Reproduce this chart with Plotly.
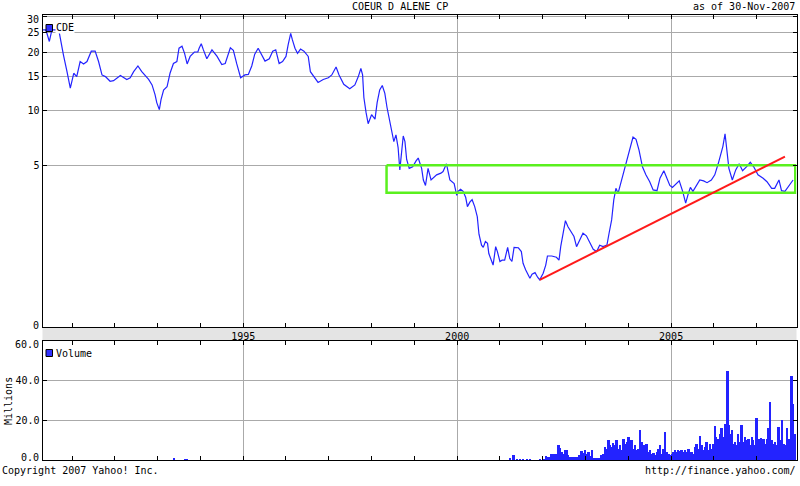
import math
import plotly.graph_objects as go

# ---------------- data ----------------
price_t = [1990.30, 1990.39, 1990.47, 1990.53, 1990.69, 1990.75, 1990.80, 1990.88, 1990.96,
           1991.04, 1991.11, 1991.19, 1991.27, 1991.35, 1991.45, 1991.54, 1991.62, 1991.70,
           1991.78, 1991.89, 1991.97, 1992.13, 1992.28, 1992.36, 1992.44, 1992.54, 1992.63,
           1992.79, 1992.87, 1992.94, 1992.98, 1993.04, 1993.08, 1993.14, 1993.22, 1993.29,
           1993.37, 1993.45, 1993.50, 1993.57, 1993.63, 1993.69, 1993.76, 1993.86, 1993.94,
           1993.97, 1994.02, 1994.07, 1994.15, 1994.27, 1994.39, 1994.50, 1994.58, 1994.70,
           1994.77, 1994.85, 1994.94, 1995.04, 1995.12, 1995.20, 1995.27, 1995.35, 1995.43,
           1995.51, 1995.61, 1995.69, 1995.76, 1995.84, 1995.92, 1996.00, 1996.05, 1996.11,
           1996.15, 1996.21, 1996.27, 1996.34, 1996.42, 1996.52, 1996.57, 1996.68, 1996.75,
           1996.87, 1996.99, 1997.07, 1997.17, 1997.24, 1997.35, 1997.49, 1997.61, 1997.69,
           1997.75, 1997.79, 1997.82, 1997.87, 1997.92, 1998.00, 1998.08, 1998.13, 1998.19,
           1998.25, 1998.31, 1998.36, 1998.43, 1998.48, 1998.52, 1998.57, 1998.62, 1998.66,
           1998.70, 1998.74, 1998.78, 1998.82, 1998.88, 1998.96, 1999.04, 1999.09, 1999.17,
           1999.21, 1999.26, 1999.32, 1999.39, 1999.44, 1999.52, 1999.62, 1999.67, 1999.75,
           1999.83, 1999.93, 1999.99, 2000.02, 2000.08, 2000.14, 2000.20, 2000.24, 2000.30,
           2000.35, 2000.41, 2000.47, 2000.51, 2000.57, 2000.61, 2000.66, 2000.71, 2000.74,
           2000.79, 2000.84, 2000.90, 2000.94, 2001.00, 2001.05, 2001.11, 2001.18, 2001.23,
           2001.28, 2001.33, 2001.43, 2001.50, 2001.54, 2001.60, 2001.66, 2001.70, 2001.75,
           2001.82, 2001.88, 2001.93, 2002.01, 2002.07, 2002.11, 2002.21, 2002.32, 2002.38,
           2002.42, 2002.48, 2002.53, 2002.59, 2002.66, 2002.73, 2002.79, 2002.87, 2002.94,
           2003.02, 2003.10, 2003.18, 2003.26, 2003.33, 2003.41, 2003.50, 2003.55, 2003.61,
           2003.66, 2003.71, 2003.76, 2003.82, 2003.90, 2003.96, 2004.04, 2004.11, 2004.18,
           2004.25, 2004.33, 2004.41, 2004.50, 2004.58, 2004.67, 2004.74, 2004.83, 2004.89,
           2004.97, 2005.03, 2005.11, 2005.19, 2005.27, 2005.34, 2005.40, 2005.45, 2005.51,
           2005.59, 2005.67, 2005.76, 2005.84, 2005.94, 2006.02, 2006.10, 2006.15, 2006.21,
           2006.26, 2006.31, 2006.35, 2006.43, 2006.51, 2006.59, 2006.67, 2006.76, 2006.85,
           2006.93, 2007.03, 2007.15, 2007.24, 2007.35, 2007.42, 2007.52, 2007.58, 2007.66,
           2007.76, 2007.85]
price = [25.8, 25.8, 22.6, 25.8, 25.8, 21.7, 19.3, 16.0, 13.1,
         15.6, 15.0, 17.9, 17.4, 17.9, 20.2, 20.2, 17.9, 15.3,
         15.0, 14.2, 14.3, 15.2, 14.5, 14.8, 15.9, 17.0, 15.9,
         14.5, 13.6, 12.1, 11.0, 10.1, 11.4, 12.8, 13.3, 15.6,
         17.5, 17.9, 20.9, 21.4, 19.7, 17.4, 19.0, 20.0, 20.0,
         20.9, 22.0, 20.5, 18.5, 20.5, 19.0, 17.3, 17.5, 21.0,
         20.4, 17.4, 14.8, 15.3, 15.4, 17.0, 19.5, 20.9, 19.2,
         18.0, 18.5, 20.2, 20.5, 17.5, 17.9, 19.0, 21.7, 24.8,
         23.0, 20.9, 19.7, 20.7, 20.2, 19.0, 15.9, 14.8, 14.0,
         14.5, 14.8, 15.3, 16.8, 15.3, 13.7, 13.0, 13.6, 15.0,
         16.5, 15.3, 11.7, 9.8, 8.5, 9.5, 9.0, 11.0, 12.8,
         13.5, 12.3, 10.4, 8.7, 7.5, 6.8, 7.4, 6.3, 4.7,
         6.2, 7.3, 6.8, 5.4, 4.8, 4.9, 5.3, 5.5, 4.8,
         4.1, 3.8, 4.8, 4.1, 4.2, 4.4, 4.5, 4.6, 5.1,
         4.1, 3.9, 3.3, 3.5, 3.6, 3.5, 3.2, 2.8, 3.0,
         3.1, 2.8, 2.4, 1.8, 1.48, 1.42, 1.58, 1.53, 1.26,
         1.10, 0.99, 1.44, 1.31, 1.07, 1.10, 1.10, 1.42, 1.14,
         1.07, 1.42, 1.41, 1.31, 1.03, 0.89, 0.80, 0.72, 0.80,
         0.83, 0.74, 0.69, 0.82, 0.99, 1.20, 1.20, 1.17, 1.10,
         1.44, 1.88, 2.25, 2.04, 1.88, 1.73, 1.44, 1.64, 1.83,
         1.75, 1.53, 1.37, 1.31, 1.48, 1.44, 1.48, 1.83, 2.28,
         3.09, 3.65, 3.40, 3.90, 4.70, 5.40, 6.40, 7.20, 7.00,
         6.10, 4.90, 4.40, 4.00, 3.57, 3.53, 4.20, 4.65, 4.25,
         3.80, 3.70, 3.90, 4.05, 3.50, 2.95, 3.37, 3.70, 3.50,
         3.80, 4.10, 4.05, 3.95, 4.10, 4.40, 5.10, 5.60, 6.40,
         7.50, 6.10, 4.80, 4.10, 4.70, 5.10, 4.65, 4.90, 5.20,
         4.90, 4.40, 4.20, 4.00, 3.65, 3.65, 4.10, 3.53, 3.50,
         3.80, 4.10]

vol_t = [1993.37, 1993.64, 1993.68,
         2001.23, 2001.31, 2001.39, 2001.46, 2001.54, 2001.62, 2001.70, 2001.93, 2002.01,
         2002.07, 2002.13, 2002.16, 2002.20, 2002.24, 2002.28, 2002.32, 2002.36, 2002.40,
         2002.43, 2002.48, 2002.51, 2002.55, 2002.59, 2002.63, 2002.67, 2002.71, 2002.75,
         2002.79, 2002.83, 2002.85, 2002.90, 2002.94, 2002.98, 2003.02, 2003.06, 2003.10,
         2003.14, 2003.18, 2003.22, 2003.25, 2003.29, 2003.33, 2003.37, 2003.41, 2003.45,
         2003.49, 2003.53, 2003.57, 2003.61, 2003.64, 2003.68, 2003.72, 2003.76, 2003.80,
         2003.84, 2003.88, 2003.92, 2003.96, 2004.00, 2004.03, 2004.07, 2004.11, 2004.15,
         2004.19, 2004.23, 2004.27, 2004.31, 2004.35, 2004.38, 2004.42, 2004.46, 2004.50,
         2004.54, 2004.58, 2004.62, 2004.66, 2004.70, 2004.73, 2004.77, 2004.81, 2004.85,
         2004.89, 2004.93, 2004.97, 2005.01, 2005.05, 2005.09, 2005.12, 2005.16, 2005.20,
         2005.24, 2005.28, 2005.32, 2005.36, 2005.40, 2005.44, 2005.47, 2005.51, 2005.55,
         2005.59, 2005.63, 2005.67, 2005.71, 2005.75, 2005.79, 2005.82, 2005.86, 2005.90,
         2005.94, 2005.98, 2006.02, 2006.04, 2006.06, 2006.10, 2006.14, 2006.17, 2006.21,
         2006.25, 2006.28, 2006.31, 2006.33, 2006.35, 2006.39, 2006.41, 2006.45, 2006.49,
         2006.53, 2006.56, 2006.60, 2006.64, 2006.68, 2006.72, 2006.76, 2006.80, 2006.84,
         2006.88, 2006.91, 2006.95, 2006.99, 2007.02, 2007.06, 2007.09, 2007.12, 2007.15,
         2007.19, 2007.23, 2007.27, 2007.30, 2007.34, 2007.38, 2007.42, 2007.46, 2007.50,
         2007.54, 2007.58, 2007.62, 2007.66, 2007.70, 2007.74, 2007.77, 2007.81, 2007.84,
         2007.86, 2007.89]
vol = [1.0, 0.6, 0.6,
       1.2, 2.5, 0.8, 0.8, 0.8, 0.6, 0.8, 0.8, 0.8,
       2.0, 1.7, 1.7, 3.0, 3.0, 3.0, 3.0, 7.5, 6.4,
       4.2, 3.4, 5.0, 5.0, 2.5, 1.7, 1.7, 1.7, 1.7,
       1.7, 1.7, 2.5, 4.7, 3.7, 5.0, 3.0, 4.2, 2.0,
       5.4, 1.3, 1.3, 1.3, 1.3, 1.3, 2.5, 3.4, 6.7,
       5.9, 10.0, 7.5, 6.7, 8.7, 7.5, 10.0, 5.9, 7.5,
       5.0, 10.9, 8.4, 9.2, 11.8, 7.5, 10.0, 5.9, 7.5,
       5.0, 5.9, 15.1, 9.2, 7.5, 5.0, 8.4, 4.2, 5.0,
       3.0, 3.7, 2.5, 4.2, 5.9, 7.5, 3.4, 5.9, 14.3,
       4.2, 3.4, 2.5, 3.4, 4.2, 5.0, 4.2, 5.0, 4.7,
       5.4, 4.2, 5.0, 4.2, 5.9, 3.7, 4.2, 3.4, 6.7,
       8.4, 5.9, 12.1, 7.5, 5.0, 6.7, 9.2, 5.0, 8.4,
       5.9, 8.4, 17.1, 11.8, 10.0, 10.9, 13.4, 16.0, 11.8,
       18.5, 11.8, 45.0, 21.5, 17.6, 13.4, 15.1, 8.4, 9.2,
       7.5, 13.4, 9.2, 17.6, 9.2, 11.8, 10.0, 10.9, 7.5,
       11.8, 10.0, 7.5, 21.5, 8.4, 10.9, 11.4, 10.0, 10.9,
       8.4, 10.9, 16.0, 29.4, 10.0, 8.4, 9.2, 7.5, 16.8,
       10.0, 20.2, 8.4, 7.5, 16.0, 10.9, 8.4, 42.4, 28.2,
       9.2, 13.4]

trend_t = [2001.93, 2007.66]
trend_p = [0.69, 5.60]
band_t = [1998.35, 2007.90]
band_p = [3.43, 5.00]

price_ticks = [0, 5, 10, 15, 20, 25, 30]
vol_ticks = [0, 20, 40, 60]
year_labels = [1995, 2000, 2005]
minor_years = list(range(1991, 2008))
x_range = [1990.31, 2007.93]

OFFSET = 1  # the chart's price scale is logarithmic in (price + 1)

# ---------------- styling ----------------
FONT = "DejaVu Sans Mono"
BLUE = "#2323ff"
GRID = "#aaaaaa"
W, H = 800, 486


def px(xp):
    return xp / W


def py(yp):
    return 1 - yp / H


XDOM = [px(42.5), px(796.5)]

fig = go.Figure()

fig.add_trace(go.Scatter(x=price_t, y=[p + OFFSET for p in price], mode="lines",
                         line=dict(color=BLUE, width=1.2), xaxis="x", yaxis="y",
                         hoverinfo="skip", showlegend=False))
fig.add_trace(go.Scatter(x=[band_t[0], band_t[1], band_t[1], band_t[0], band_t[0]],
                         y=[band_p[1] + OFFSET, band_p[1] + OFFSET, band_p[0] + OFFSET,
                            band_p[0] + OFFSET, band_p[1] + OFFSET],
                         mode="lines", line=dict(color="#5af01e", width=2.5),
                         xaxis="x", yaxis="y", hoverinfo="skip", showlegend=False))
fig.add_trace(go.Scatter(x=trend_t, y=[p + OFFSET for p in trend_p], mode="lines",
                         line=dict(color="#ff1a1a", width=2), xaxis="x", yaxis="y",
                         hoverinfo="skip", showlegend=False))
fig.add_trace(go.Bar(x=vol_t, y=vol, width=0.042, marker=dict(color=BLUE, line=dict(width=0)),
                     xaxis="x2", yaxis="y2", hoverinfo="skip", showlegend=False))

tickfont = dict(family=FONT, size=10, color="black")
xcommon = dict(domain=XDOM, range=x_range, tickmode="array", tickvals=year_labels,
               ticktext=[str(y) for y in year_labels], showgrid=True, gridcolor=GRID,
               gridwidth=1, ticks="inside", ticklen=4, tickcolor="black", showline=True,
               linecolor="black", linewidth=1, mirror="ticks", zeroline=False,
               tickfont=tickfont,
               minor=dict(tickvals=minor_years, ticks="inside", ticklen=4,
                          tickcolor="black", showgrid=False))

# end labels of each y axis are drawn separately (nudged inwards, as in the original)
price_text = ["" if v in (price_ticks[0], price_ticks[-1]) else str(v) for v in price_ticks]
vol_text = ["" if v in (vol_ticks[0], vol_ticks[-1]) else "%.1f" % v for v in vol_ticks]

fig.update_layout(
    width=W, height=H, autosize=False, margin=dict(l=0, r=0, t=0, b=0, pad=0),
    paper_bgcolor="white", plot_bgcolor="white", bargap=0,
    xaxis=dict(anchor="y", **xcommon),
    xaxis2=dict(anchor="y2", showticklabels=False, **xcommon),
    yaxis=dict(domain=[py(327.3), py(15)], type="log", range=[0, 1.5], anchor="x",
               tickmode="array", tickvals=[v + OFFSET for v in price_ticks],
               ticktext=price_text, showgrid=True, gridcolor=GRID,
               ticks="inside", ticklen=4, tickcolor="black", showline=True,
               linecolor="black", mirror="ticks", zeroline=False, tickfont=tickfont),
    yaxis2=dict(domain=[py(460), py(340.7)], range=[0, 60], anchor="x2",
                tickmode="array", tickvals=vol_ticks,
                ticktext=vol_text, showgrid=True, gridcolor=GRID,
                ticks="inside", ticklen=4, tickcolor="black", showline=True,
                linecolor="black", mirror="ticks", zeroline=False, tickfont=tickfont),
)

# grey date band between the panels
fig.add_shape(type="rect", xref="paper", yref="paper", x0=XDOM[0], x1=XDOM[1],
              y0=py(340.7), y1=py(327.3), fillcolor="#e4e4e4", line=dict(width=0),
              layer="below")

# legend squares
for yc in (28, 353):
    fig.add_shape(type="rect", xref="paper", yref="paper", x0=px(46), x1=px(52.5),
                  y0=py(yc + 3.5), y1=py(yc - 3.5), fillcolor="#3030ff",
                  line=dict(color="black", width=1))

ann_font = dict(family=FONT, size=10, color="black")
annots = [
    dict(text="CDE", x=px(55), y=py(28), xanchor="left", yanchor="middle",
         bgcolor="white", borderpad=0),
    dict(text="Volume", x=px(55), y=py(353), xanchor="left", yanchor="middle",
         bgcolor="white", borderpad=0),
    dict(text="COEUR D ALENE CP", x=0.5, y=py(7), xanchor="center", yanchor="middle"),
    dict(text="as of 30-Nov-2007", x=px(797), y=py(7), xanchor="right", yanchor="middle"),
    dict(text="Copyright 2007 Yahoo! Inc.", x=px(0), y=py(470), xanchor="left",
         yanchor="middle"),
    dict(text="http://finance.yahoo.com/", x=px(798), y=py(470), xanchor="right",
         yanchor="middle"),
    dict(text="Millions", x=px(8), y=py(401), xanchor="center", yanchor="middle",
         textangle=-90),
]
for a in annots:
    fig.add_annotation(xref="paper", yref="paper", showarrow=False, font=ann_font, **a)

# y-axis end labels, placed on their axis values and nudged inside the panel
end_labels = [
    ("y", math.log10(price_ticks[0] + OFFSET), str(price_ticks[0]), 1.5),
    ("y", math.log10(price_ticks[-1] + OFFSET), str(price_ticks[-1]), -3),
    ("y2", vol_ticks[0], "%.1f" % vol_ticks[0], 2.5),
    ("y2", vol_ticks[-1], "%.1f" % vol_ticks[-1], -4),
]
for yref, yv, txt, shift in end_labels:
    fig.add_annotation(xref="paper", yref=yref, x=px(39.5), y=yv, text=txt,
                       xanchor="right", yanchor="middle", yshift=shift,
                       showarrow=False, borderpad=0, font=ann_font)

fig.write_html(
    "out.html",
    config={"displayModeBar": False, "responsive": False},
    post_script=("document.documentElement.style.margin='0';"
                 "document.documentElement.style.overflow='hidden';"
                 "document.body.style.margin='0';"
                 "document.body.style.overflow='hidden';"),
)
